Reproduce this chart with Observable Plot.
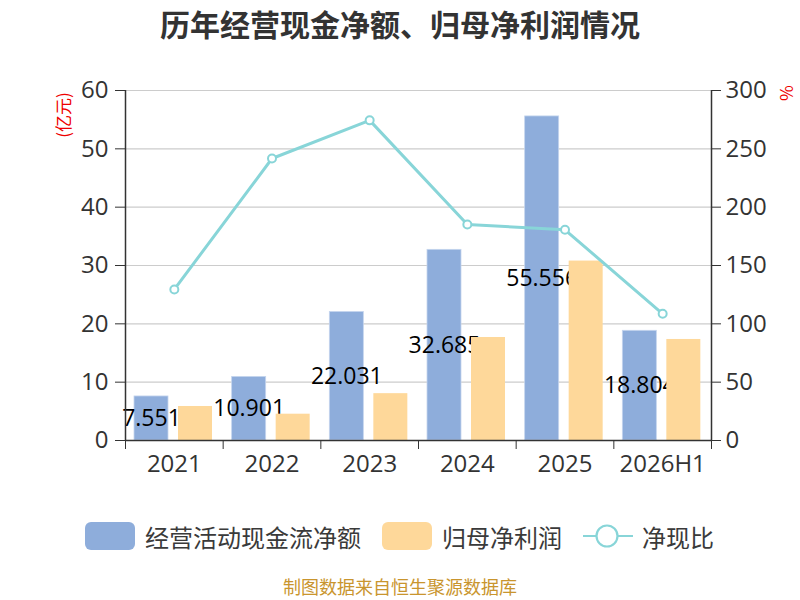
<!DOCTYPE html>
<html>
<head>
<meta charset="utf-8">
<script src="https://cdn.jsdelivr.net/npm/d3@7"></script>
<script src="https://cdn.jsdelivr.net/npm/@observablehq/plot@0.6"></script>
<style>
  body { margin: 0; background: #fff; font-family: "Noto Sans CJK SC", "Noto Sans", sans-serif; }
  #wrap { position: relative; width: 800px; height: 600px; overflow: hidden; }
  #title { position: absolute; left: 0; top: 0; width: 800px; height: 46px; line-height: 46px; text-align: center; font-size: 30px; font-weight: bold; color: #333; }
  #chart { position: absolute; left: 0; top: 60px; }
  #legend { position: absolute; left: 0; top: 520px; width: 800px; height: 32px; }
  .item { position: absolute; top: 0; height: 32px; display: flex; align-items: center; font-size: 24px; color: #3a3a3a; white-space: nowrap; }
  .sw { width: 50px; height: 28px; border-radius: 6px; margin-right: 10px; }
  #footer { position: absolute; left: 0; top: 575px; width: 800px; text-align: center; font-size: 18px; color: #c9952e; line-height: 22px; }
  .unit { position: absolute; color: #e00; font-size: 17px; white-space: nowrap; line-height: 20px; }
</style>
</head>
<body>
<div id="wrap">
  <div id="title">历年经营现金净额、归母净利润情况</div>
  <div id="chart"></div>
  <div class="unit" style="left:40px; top:105px; width:46px; text-align:center; transform: rotate(-90deg);">(亿元)</div>
  <div class="unit" style="left:777px; top:83px; width:20px; text-align:center; transform: rotate(90deg);">%</div>
  <div id="legend">
    <div class="item" style="left:85px;"><div class="sw" style="background:#8eaddb;"></div>经营活动现金流净额</div>
    <div class="item" style="left:382px;"><div class="sw" style="background:#fed89a;"></div>归母净利润</div>
    <div class="item" style="left:583px;"><svg width="50" height="32" style="margin-right:9px"><line x1="0" y1="16" x2="50" y2="16" stroke="#88d5d8" stroke-width="2.2"/><circle cx="24" cy="16" r="10.5" fill="#fff" stroke="#88d5d8" stroke-width="2.2"/></svg>净现比</div>
  </div>
  <div id="footer">制图数据来自恒生聚源数据库</div>
</div>
<script>
const years = ["2021", "2022", "2023", "2024", "2025", "2026H1"];
const cashFlow = [7.551, 10.901, 22.031, 32.685, 55.556, 18.804];
const netProfit = [5.83, 4.51, 8.03, 17.66, 30.76, 17.32];
const ratio = [129.5, 241.7, 274.4, 185.1, 180.6, 108.6];
const leftTicks = [0, 10, 20, 30, 40, 50, 60];
const rightTicks = [0, 50, 100, 150, 200, 250, 300];

const rows = years.map((y, i) => ({ year: y, i, cash: cashFlow[i], profit: netProfit[i], ratio: ratio[i] }));
const rightFactor = rightTicks[rightTicks.length - 1] / leftTicks[leftTicks.length - 1];
const bw = (800 - 125 - 89) / years.length;
const barW = 34;
const numFont = "Open Sans, Noto Sans CJK SC, sans-serif";

const chart = Plot.plot({
  width: 800,
  height: 420,
  marginTop: 30,
  marginBottom: 40,
  marginLeft: 125,
  marginRight: 89,
  style: { fontFamily: numFont, background: "transparent" },
  x: { type: "linear", domain: [0, years.length], axis: null },
  y: { domain: [0, 60], axis: null },
  marks: [
    Plot.ruleY(leftTicks.filter(d => d > 0), { stroke: "#ccc", strokeWidth: 1.2 }),
    Plot.rectY(rows, { x1: d => d.i, x2: d => d.i + 1, y: "cash", fill: "#8eaddb", stroke: "#c5d5ee", strokeWidth: 0.8, insetLeft: 9, insetRight: bw - 9 - barW }),
    Plot.text(rows, { x: d => d.i + 0.5, y: d => d.cash / 2, text: d => d.cash.toFixed(3), dx: 26 - bw / 2, fontSize: 23, fill: "#000" }),
    Plot.rectY(rows, { x1: d => d.i, x2: d => d.i + 1, y: "profit", fill: "#fed89a", insetLeft: 53, insetRight: bw - 53 - barW }),
    // left axis
    Plot.axisY(leftTicks, { anchor: "left", tickSize: 10, tickPadding: 7, fontSize: 24, color: "#333", stroke: "#333" }),
    Plot.ruleX([0], { stroke: "#333", strokeWidth: 1.5 }),
    // right axis
    Plot.axisY(leftTicks, { anchor: "right", tickSize: 9, tickPadding: 5, fontSize: 24, color: "#333", stroke: "#333", tickFormat: d => d * rightFactor }),
    Plot.ruleX([years.length], { stroke: "#333", strokeWidth: 1.5 }),
    // bottom axis
    Plot.ruleY([0], { stroke: "#333", strokeWidth: 1.5 }),
    Plot.axisX(d3.range(0, years.length + 1), { anchor: "bottom", tickSize: 9, tickFormat: () => "", stroke: "#333" }),
    Plot.axisX(d3.range(0, years.length).map(i => i + 0.5), { anchor: "bottom", tickSize: 0, tickPadding: 14, fontSize: 24, color: "#333", tickFormat: d => years[Math.floor(d)] }),
    // ratio line
    Plot.line(rows, { x: d => d.i + 0.5, y: d => d.ratio / rightFactor, stroke: "#88d5d8", strokeWidth: 3 }),
    Plot.dot(rows, { x: d => d.i + 0.5, y: d => d.ratio / rightFactor, r: 4, fill: "#fff", stroke: "#88d5d8", strokeWidth: 2 })
  ]
});
document.getElementById("chart").appendChild(chart);
</script>
</body>
</html>
